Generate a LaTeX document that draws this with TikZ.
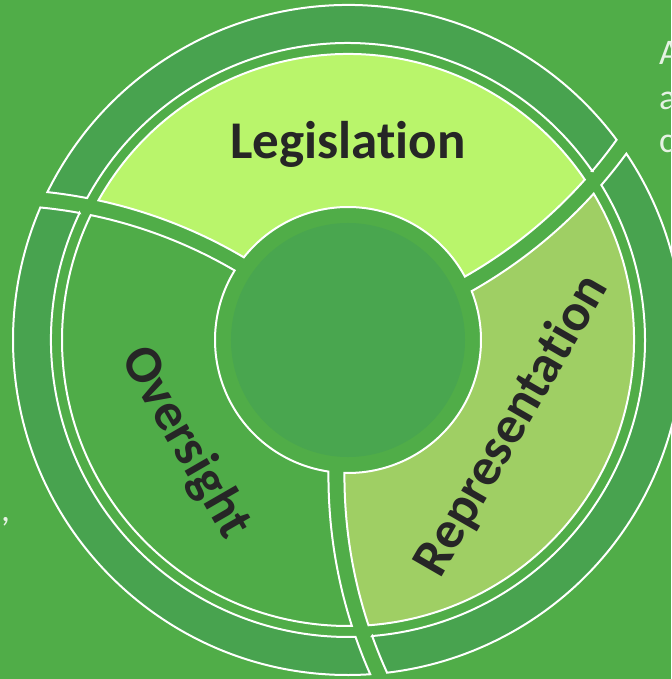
\documentclass[tikz,border=0pt]{standalone}
\usepackage{fontspec}
\setmainfont{Carlito}[Ligatures=NoCommon]
\definecolor{bggreen}{HTML}{50AD48}
\definecolor{ringgreen}{HTML}{48A34F}
\definecolor{coregreen}{HTML}{49A64F}
\definecolor{legis}{HTML}{B9F56B}
\definecolor{repres}{HTML}{9FCF64}
\definecolor{oversi}{HTML}{4FAC48}
\definecolor{labeltext}{HTML}{262626}
\definecolor{sidetext}{HTML}{E6F2E4}
% gap curves: circles of radius gapR (px) whose centres lie gapD*100 px from the hub
\newcommand\gapD{4.907}
\newcommand\gapR{483}
\newcommand\gapH{8}
\newcommand\gapPsiA{223.9}
\newcommand\gapPsiB{103.9}
\newcommand\ringpiece[3]{%
 \pgfmathsetmacro\pcRhoP{(\gapR+\gapH)/100}%
 \pgfmathsetmacro\pcRhoM{(\gapR-\gapH)/100}%
 \pgfmathsetlengthmacro\pcRhoPlen{(\gapR+\gapH)*1pt}%
 \pgfmathsetlengthmacro\pcRhoMlen{(\gapR-\gapH)*1pt}%
 \pgfmathsetmacro\pcRi{#1/100}%
 \pgfmathsetmacro\pcRo{#2/100}%
 \pgfmathsetmacro\pcALoIn{\gapPsiB-acos((\pcRi*\pcRi+\gapD*\gapD-\pcRhoM*\pcRhoM)/(2*\pcRi*\gapD))}%
 \pgfmathsetmacro\pcALoOut{\gapPsiB-acos((\pcRo*\pcRo+\gapD*\gapD-\pcRhoM*\pcRhoM)/(2*\pcRo*\gapD))}%
 \pgfmathsetmacro\pcAHiIn{\gapPsiA-acos((\pcRi*\pcRi+\gapD*\gapD-\pcRhoP*\pcRhoP)/(2*\pcRi*\gapD))}%
 \pgfmathsetmacro\pcAHiOut{\gapPsiA-acos((\pcRo*\pcRo+\gapD*\gapD-\pcRhoP*\pcRhoP)/(2*\pcRo*\gapD))}%
 \pgfmathsetmacro\pcEHiIn{atan2(\pcRi*sin(\pcAHiIn)-\gapD*sin(\gapPsiA),\pcRi*cos(\pcAHiIn)-\gapD*cos(\gapPsiA))}%
 \pgfmathsetmacro\pcEHiOut{atan2(\pcRo*sin(\pcAHiOut)-\gapD*sin(\gapPsiA),\pcRo*cos(\pcAHiOut)-\gapD*cos(\gapPsiA))}%
 \pgfmathsetmacro\pcELoIn{atan2(\pcRi*sin(\pcALoIn)-\gapD*sin(\gapPsiB),\pcRi*cos(\pcALoIn)-\gapD*cos(\gapPsiB))}%
 \pgfmathsetmacro\pcELoOut{atan2(\pcRo*sin(\pcALoOut)-\gapD*sin(\gapPsiB),\pcRo*cos(\pcALoOut)-\gapD*cos(\gapPsiB))}%
 \path[#3] (\pcALoIn:#1pt) arc[start angle=\pcALoIn, end angle=\pcAHiIn, radius=#1pt]
   arc[start angle=\pcEHiIn, end angle=\pcEHiOut, radius=\pcRhoPlen]
   arc[start angle=\pcAHiOut, end angle=\pcALoOut, radius=#2pt]
   arc[start angle=\pcELoOut, end angle=\pcELoIn, radius=\pcRhoMlen] -- cycle;%
}
\tikzset{
  piecestroke/.style={draw=white, line width=2pt},
  bigword/.style={font=\bfseries\fontsize{53}{60}\selectfont, text=labeltext, inner sep=0pt},
  sideword/.style={font=\fontsize{36}{43}\selectfont, text=sidetext, inner sep=0pt, anchor=base west}
}
\begin{document}
\begin{tikzpicture}[x=1pt,y=1pt]
\useasboundingbox (-348,-339) rectangle (323,340);
\fill[bggreen] (-348,-339) rectangle (323,340);
% outer ring pieces
\ringpiece{297}{335}{fill=ringgreen, piecestroke}
\begin{scope}[rotate=120]\ringpiece{297}{335}{fill=ringgreen, piecestroke}\end{scope}
\begin{scope}[rotate=240]\ringpiece{297}{335}{fill=ringgreen, piecestroke}\end{scope}
% main segments
\ringpiece{133}{286}{fill=legis, piecestroke}
\begin{scope}[rotate=120]\ringpiece{133}{286}{fill=oversi, piecestroke}\end{scope}
\begin{scope}[rotate=240]\ringpiece{133}{286}{fill=repres, piecestroke}\end{scope}
% hub
\fill[coregreen] (0,0) circle[radius=117pt];
\coordinate (hub) at (0,0);
% labels
\node[bigword, anchor=base] (legislation) at (0,181) {Legislation};
\node[bigword, rotate=-60] (oversight) at (-163,-103) {Oversight};
\node[bigword, rotate=60] (representation) at (164,-86) {Representation};
% fragments of side text cut by the frame
\node[sideword] (sideA) at (311,275) {A};
\node[sideword] (sideB) at (311,230) {a};
\node[sideword] (sideC) at (311,187) {c};
\node[sideword] (sidecomma) at (-347,-181) {,};
\end{tikzpicture}
\end{document}
